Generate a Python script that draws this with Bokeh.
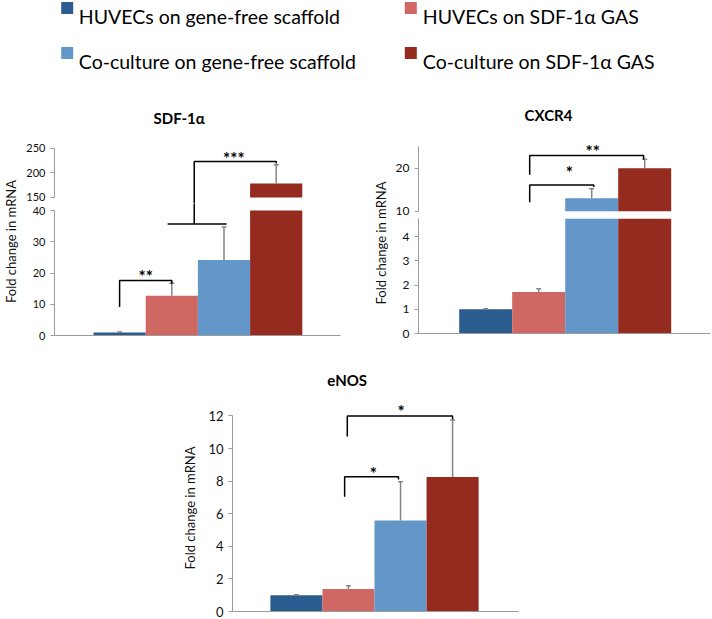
import math
from bokeh.plotting import figure
from bokeh.layouts import column, row
from bokeh.models import Range1d, FixedTicker, Spacer
from bokeh.core.properties import value
from bokeh.embed import file_html
from bokeh.resources import INLINE

# ---------------- data ----------------
groups = ["HUVECs on gene-free scaffold", "HUVECs on SDF-1\u03b1 GAS",
          "Co-culture on gene-free scaffold", "Co-culture on SDF-1\u03b1 GAS"]
colors = ["#2B5C8F", "#CF6762", "#6497C9", "#952A1F"]

sdf_mean = [1.0, 12.7, 24.2, 178.5]
sdf_err = [0.15, 4.0, 10.5, 38.2]
cx_mean = [1.0, 1.71, 13.0, 20.0]
cx_err = [0.02, 0.14, 2.2, 2.1]
en_mean = [1.0, 1.38, 5.59, 8.25]
en_err = [0.03, 0.2, 2.37, 3.5]

sdf_ticks_low = [0, 10, 20, 30, 40]
sdf_ticks_high = [150, 200, 250]
cx_ticks_low = [0, 1, 2, 3, 4]
cx_ticks_high = [10, 20]
en_ticks = [0, 2, 4, 6, 8, 10, 12]

# significance brackets (x in bar index units, y in data units)
sdf_br_x = [[0.0, 0.0, 1.0, 1.0], [0.92, 2.05], [1.43, 1.43, 3.0, 3.0]]
sdf_br_y = [[9.1, 17.6, 17.6, 16.6], [35.7, 35.7], [35.7, 223.5, 223.5, 219.4]]
sdf_st_txt = ["**", "***"]
sdf_st_x = [0.5, 2.19]
sdf_st_y = [19.8, 235.7]

cx_br_x = [[0.83, 0.83, 2.04, 2.04], [0.83, 0.83, 2.98, 2.98]]
cx_br_y = [[12.1, 16.1, 16.1, 15.6], [18.5, 22.95, 22.95, 22.0]]
cx_st_txt = ["*", "**"]
cx_st_x = [1.58, 2.02]
cx_st_y = [19.6, 24.6]

en_br_x = [[0.926, 0.926, 1.96, 1.96], [0.977, 0.977, 3.0, 3.0]]
en_br_y = [[7.04, 8.27, 8.27, 8.1], [10.74, 12.0, 12.0, 11.8]]
en_st_txt = ["*", "*"]
en_st_x = [1.48, 2.01]
en_st_y = [8.68, 12.43]

# ---------------- style ----------------
FONT = "Lato"
AXIS = "#9A9A9A"
ERR = "#858585"
TXT = "#111111"


def base_fig(w, h, xr, yr, xaxis=True, yaxis=True, **borders):
    kw = dict(width=w, height=h, x_range=xr, y_range=yr,
              toolbar_location=None, output_backend="svg",
              min_border=0, outline_line_color=None,
              background_fill_color="white", border_fill_color="white")
    if not xaxis:
        kw["x_axis_type"] = None
    if not yaxis:
        kw["y_axis_type"] = None
    kw.update(borders)
    p = figure(**kw)
    p.grid.visible = False
    return p


def style_y(p, ticks, bounds, size):
    ax = p.yaxis[0]
    ax.ticker = FixedTicker(ticks=ticks)
    ax.bounds = bounds
    ax.axis_line_color = AXIS
    ax.major_tick_line_color = AXIS
    ax.minor_tick_line_color = None
    ax.major_tick_in = 0
    ax.major_tick_out = 4
    ax.major_label_text_font = FONT
    ax.major_label_text_font_size = size
    ax.major_label_text_color = TXT
    ax.major_label_standoff = 5


def style_x(p):
    ax = p.xaxis[0]
    ax.ticker = FixedTicker(ticks=[])
    ax.axis_line_color = AXIS
    ax.major_tick_out = 0
    ax.major_tick_in = 0
    ax.minor_tick_line_color = None


def draw_bars(p, means, errs, cap=None, base=None):
    xs = list(range(len(means)))
    if base is None:
        tops = [min(m, cap) if cap is not None else m for m in means]
        p.vbar(x=xs, bottom=0, top=tops, width=1, fill_color=colors, line_color=None)
    else:
        idx = [i for i, m in enumerate(means) if m > base]
        p.vbar(x=[xs[i] for i in idx], bottom=base, top=[means[i] for i in idx],
               width=1, fill_color=[colors[i] for i in idx], line_color=None)
    ups = [m + e for m, e in zip(means, errs)]
    p.segment(x0=xs, y0=means, x1=xs, y1=ups, line_color=ERR, line_width=1.5)
    p.dash(x=xs, y=ups, size=5, line_color=ERR, line_width=1.5)


def draw_sig(p, bx, by, tx, ty, tt):
    p.multi_line(xs=bx, ys=by, line_color="black", line_width=1.5)
    lo, hi = p.y_range.start, p.y_range.end
    keep = [i for i, y in enumerate(ty) if lo <= y <= hi]
    if keep:
        p.text(x=[tx[i] for i in keep], y=[ty[i] for i in keep],
               text=[tt[i] for i in keep], text_font=value(FONT),
               text_font_style="bold", text_font_size="17px",
               text_align="center", text_baseline="alphabetic",
               y_offset=3, text_color="black")


# ---------------- top strip: legend + titles ----------------
TOP_H = 128
top = base_fig(712, TOP_H, Range1d(0, 712), Range1d(TOP_H, 0), xaxis=False, yaxis=False)
leg_sq_x = [66.7, 410.3, 66.7, 410.3]
leg_tx_x = [78.3, 422.3, 78.3, 422.3]
leg_base = [16, 16, 61, 61]
top.rect(x=leg_sq_x, y=[b - 8.5 for b in leg_base], width=12, height=12,
         fill_color=colors, line_color=None)
top.text(x=leg_tx_x, y=leg_base, text=groups, text_font=value(FONT),
         text_font_size="19.5px", text_align="left", text_baseline="alphabetic",
         text_color="black")
top.text(x=[178.7, 548.0], y=[117.3, 114.3], text=["SDF-1\u03b1", "CXCR4"],
         text_font=value(FONT), text_font_style="bold", text_font_size="15px",
         text_align="center", text_baseline="alphabetic", text_color="black")

# ---------------- SDF-1a panel (broken axis) ----------------
sdf_xr = Range1d(-0.5 - 39 / 52.2, -0.5 - 39 / 52.2 + 286 / 52.2)
sdf_up = base_fig(352, 75, sdf_xr, Range1d(137.7, 256.1), xaxis=False,
                  min_border_left=34, min_border_right=32, min_border_top=17)
style_y(sdf_up, sdf_ticks_high, (150, 250), "11px")
draw_bars(sdf_up, sdf_mean, sdf_err, base=150)
draw_sig(sdf_up, sdf_br_x, sdf_br_y, sdf_st_x, sdf_st_y, sdf_st_txt)

sdf_lo = base_fig(352, 142, sdf_xr, Range1d(0, 132 / 3.125),
                  min_border_left=34, min_border_right=32, min_border_bottom=10)
style_y(sdf_lo, sdf_ticks_low, (0, 40), "11px")
style_x(sdf_lo)
draw_bars(sdf_lo, sdf_mean, sdf_err, cap=40)
draw_sig(sdf_lo, sdf_br_x, sdf_br_y, sdf_st_x, sdf_st_y, sdf_st_txt)

# ---------------- CXCR4 panel (broken axis) ----------------
cx_xr = Range1d(-0.5 - 40.7 / 53, -0.5 - 40.7 / 53 + 292 / 53)
cx_up = base_fig(324, 90, cx_xr, Range1d(8.30, 26.67), xaxis=False,
                 min_border_left=30, min_border_right=2, min_border_top=11)
style_y(cx_up, cx_ticks_high, (10, 25), "12px")
draw_bars(cx_up, cx_mean, cx_err, base=10)
draw_sig(cx_up, cx_br_x, cx_br_y, cx_st_x, cx_st_y, cx_st_txt)

cx_lo = base_fig(324, 127, cx_xr, Range1d(0, 4.75),
                 min_border_left=30, min_border_right=2, min_border_bottom=12)
style_y(cx_lo, cx_ticks_low, (0, 4.75), "12px")
style_x(cx_lo)
draw_bars(cx_lo, cx_mean, cx_err, cap=4.75)
draw_sig(cx_lo, cx_br_x, cx_br_y, cx_st_x, cx_st_y, cx_st_txt)


# y-axis label strips for the broken panels
def ylab_fig(w, h, yc):
    f = base_fig(w, h, Range1d(0, w), Range1d(0, h), xaxis=False, yaxis=False)
    f.text(x=[w / 2], y=[yc], text=["Fold change in mRNA"], angle=math.pi / 2,
           text_font=value(FONT), text_font_size="13px", text_align="center",
           text_baseline="middle", text_color=TXT)
    return f


ylab_sdf = ylab_fig(20, 217, 104)
ylab_cx = ylab_fig(16, 217, 102.5)

rowB = row(ylab_sdf, column(sdf_up, sdf_lo), ylab_cx, column(cx_up, cx_lo))

# ---------------- eNOS panel ----------------
EN_STRIP_H = 47
en_strip = base_fig(712, EN_STRIP_H, Range1d(0, 712), Range1d(EN_STRIP_H, 0),
                    xaxis=False, yaxis=False)
en_strip.text(x=[346.7], y=[34], text=["eNOS"], text_font=value(FONT),
              text_font_style="bold", text_font_size="15px", text_align="center",
              text_baseline="middle", text_color="black")

en_xr = Range1d(-0.5 - 38.3 / 52.6, -0.5 - 38.3 / 52.6 + 289 / 52.6)
en = base_fig(349, 227, en_xr, Range1d(0, 207 / 16.3),
              min_border_left=50, min_border_right=10, min_border_top=12, min_border_bottom=8)
style_y(en, en_ticks, (0, 12), "13px")
style_x(en)
en.yaxis[0].axis_label = "Fold change in mRNA"
en.yaxis[0].axis_label_text_font = FONT
en.yaxis[0].axis_label_text_font_size = "13px"
en.yaxis[0].axis_label_text_font_style = "normal"
en.yaxis[0].axis_label_text_color = TXT
en.yaxis[0].axis_label_standoff = 7
draw_bars(en, en_mean, en_err)
draw_sig(en, en_br_x, en_br_y, en_st_x, en_st_y, en_st_txt)

rowC = row(Spacer(width=179, height=227), en)

layout = column(top, rowB, en_strip, rowC)

open("out.html", "w").write(file_html(layout, INLINE))
